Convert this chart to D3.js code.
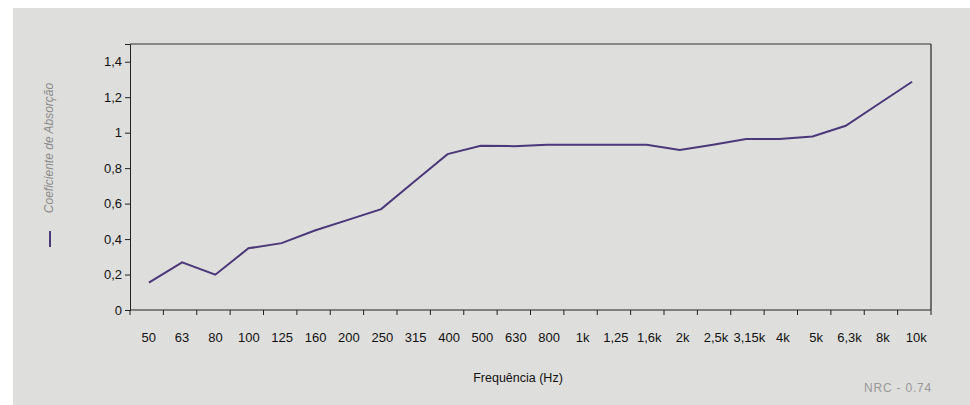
<!DOCTYPE html>
<html>
<head>
<meta charset="utf-8">
<script src="https://cdn.jsdelivr.net/npm/d3@7"></script>
<style>
  body { margin: 0; background: #fff; }
  svg text { font-family: "Liberation Sans", Arial, sans-serif; }
</style>
</head>
<body>
<div id="chart"></div>
<script>
var categories = ["50", "63", "80", "100", "125", "160", "200", "250", "315", "400",
  "500", "630", "800", "1k", "1,25", "1,6k", "2k", "2,5k", "3,15k", "4k",
  "5k", "6,3k", "8k", "10k"];

var absorption = [0.154, 0.269, 0.199, 0.348, 0.377, 0.448, 0.508, 0.569, 0.725, 0.879,
  0.926, 0.924, 0.932, 0.932, 0.932, 0.932, 0.902, 0.932, 0.964, 0.964,
  0.979, 1.039, 1.163, 1.287];

var yTicks = [0, 0.2, 0.4, 0.6, 0.8, 1, 1.2, 1.4];

var W = 970, H = 405;
var margin = {top: 44, right: 39, bottom: 95, left: 130},
    width = W - margin.left - margin.right,
    height = H - margin.top - margin.bottom;

var svg = d3.select("#chart").append("svg")
    .attr("width", W)
    .attr("height", H);

// grey panel
svg.append("rect")
    .attr("x", 13).attr("y", 8)
    .attr("width", W - 13).attr("height", H - 8)
    .attr("fill", "#dededc");

var g = svg.append("g")
    .attr("transform", "translate(" + margin.left + "," + margin.top + ")");

var x = d3.scaleBand()
    .domain(categories)
    .range([0, width]);

var xp = d3.scalePoint()
    .domain(categories)
    .range([0, width])
    .padding(0.57);

var y = d3.scaleLinear()
    .domain([0, 1.5])
    .range([height, 0]);

// frame top + right
g.append("line")
    .attr("x1", 0).attr("x2", width)
    .attr("y1", 0).attr("y2", 0)
    .attr("stroke", "#6a6a6a").attr("stroke-width", 1.5);
g.append("line")
    .attr("x1", width).attr("x2", width)
    .attr("y1", 0).attr("y2", height)
    .attr("stroke", "#333").attr("stroke-width", 1.3);

// y axis
var yAxis = g.append("g")
    .call(d3.axisLeft(y)
      .tickValues(yTicks)
      .tickSize(5)
      .tickPadding(3)
      .tickFormat(function(d) { return String(d).replace(".", ","); }));
yAxis.select(".domain").attr("stroke", "#222");
yAxis.selectAll(".tick line").attr("stroke", "#222");
yAxis.selectAll("text").attr("font-size", 13).attr("fill", "#111")
    .attr("font-family", "Liberation Sans, Arial, sans-serif");

// x axis: ticks on band edges
var xAxisG = g.append("g")
    .attr("transform", "translate(0," + height + ")");
xAxisG.append("line")
    .attr("x1", 0).attr("x2", width)
    .attr("stroke", "#222");
xAxisG.selectAll(".xt")
    .data(categories.concat(["end"]))
    .enter().append("line")
    .attr("class", "xt")
    .attr("x1", function(d, i) { return i < categories.length ? x(d) : width; })
    .attr("x2", function(d, i) { return i < categories.length ? x(d) : width; })
    .attr("y1", 0).attr("y2", 5)
    .attr("stroke", "#222");
xAxisG.selectAll(".xl")
    .data(categories)
    .enter().append("text")
    .attr("class", "xl")
    .attr("x", function(d) { return x(d) + x.bandwidth() / 2 + 2; })
    .attr("y", 32)
    .attr("text-anchor", "middle")
    .attr("font-size", 13)
    .attr("fill", "#111")
    .text(function(d) { return d; });

// data line
var line = d3.line()
    .x(function(d, i) { return xp(categories[i]); })
    .y(function(d) { return y(d); });

g.append("path")
    .datum(absorption)
    .attr("d", line)
    .attr("fill", "none")
    .attr("stroke", "#4a3878")
    .attr("stroke-width", 2);

// axis title x
svg.append("text")
    .attr("x", 518).attr("y", 382)
    .attr("text-anchor", "middle")
    .attr("font-size", 12.5)
    .attr("fill", "#111")
    .text("Frequência (Hz)");

// NRC note
svg.append("text")
    .attr("x", 932).attr("y", 392)
    .attr("text-anchor", "end")
    .attr("font-size", 12)
    .attr("letter-spacing", 0.8)
    .attr("fill", "#999")
    .text("NRC - 0.74");

// legend: rotated title + swatch
svg.append("text")
    .attr("transform", "translate(53,148) rotate(-90)")
    .attr("text-anchor", "middle")
    .attr("font-size", 12)
    .attr("font-style", "italic")
    .attr("fill", "#8a8a8a")
    .text("Coeficiente de Absorção");
svg.append("line")
    .attr("x1", 50).attr("x2", 50)
    .attr("y1", 231).attr("y2", 247)
    .attr("stroke", "#4a3878")
    .attr("stroke-width", 2);
</script>
</body>
</html>
